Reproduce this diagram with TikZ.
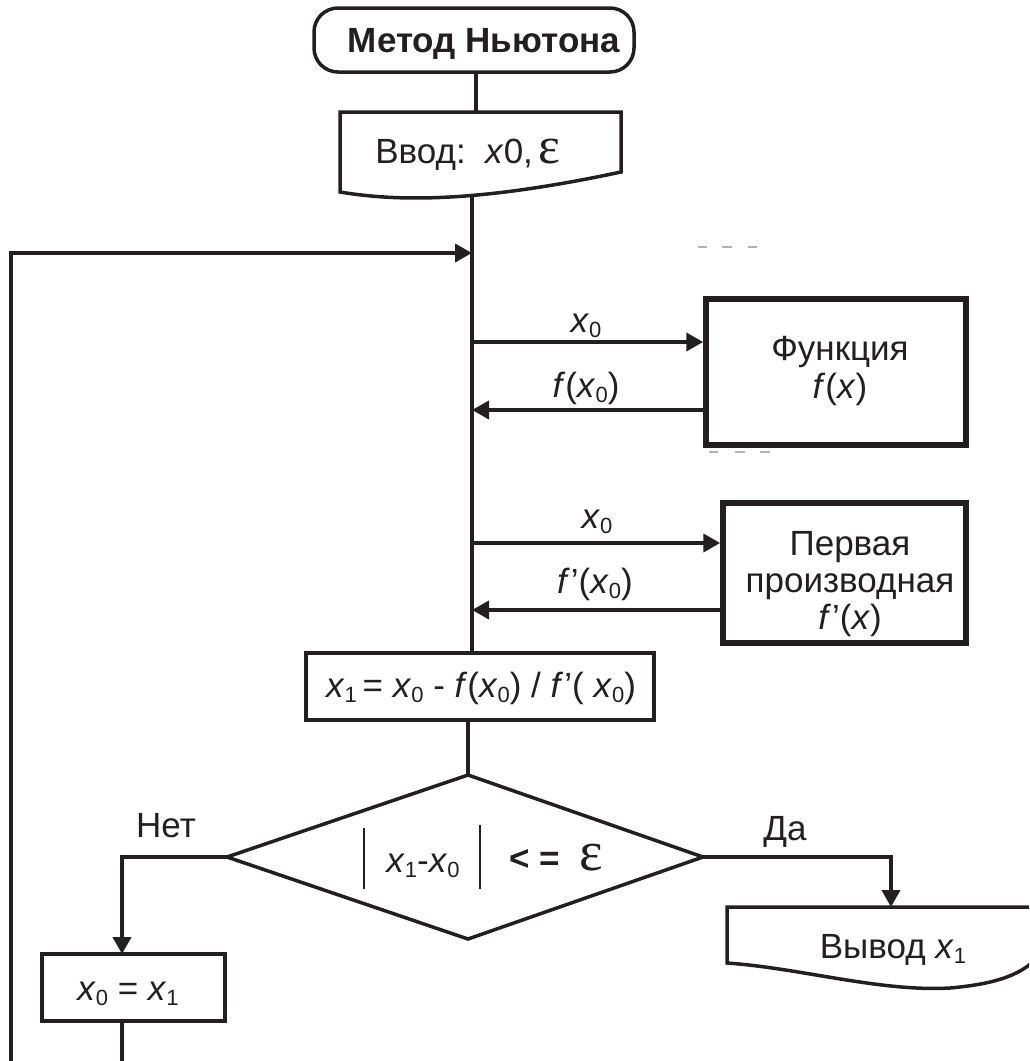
\documentclass[tikz,border=0pt]{standalone}
\usepackage{fontspec}
\setmainfont{Liberation Sans}
\newfontfamily\grkfont{Liberation Serif}
\usetikzlibrary{arrows.meta}
\definecolor{ink}{HTML}{231F20}
% italic variable, lowered index and the epsilon glyph
\newcommand\vx{\textit{x}}
\newcommand\vf{\textit{f}}
\newcommand\sbs[1]{\raisebox{-5pt}{\fontsize{22}{22}\selectfont #1}}
\newcommand\epsg[1]{{\grkfont\fontsize{#1}{#1}\selectfont ε}}

\begin{document}
\begin{tikzpicture}[x=1pt,y=-1pt,
  every node/.style={font=\fontsize{35}{37}\selectfont, text=ink, inner sep=0pt},
  conn/.style={draw=ink, line width=4pt},
  arr/.style={conn, -{Triangle[length=17pt,width=18pt]}},
  box/.style={draw=ink, line width=3.5pt, rectangle, inner sep=0pt},
  thickbox/.style={box, line width=5.5pt},
  gap/.style={draw=black!30, line width=1.5pt}
]
\useasboundingbox (0,0) rectangle (1029,1061);
\clip (0,0) rectangle (1029,1061);

% ---- start terminal
\node[box, rounded corners=24pt, minimum width=320pt, minimum height=64pt] (start) at (474,40) {};
\node[anchor=base, font=\bfseries\fontsize{35}{38}\selectfont] (startTxt) at (484,52) {Метод Ньютона};

% ---- input (document shape)
\draw[box] (340,112) -- (621,112) -- (621,172)
  .. controls (480,202) and (400,202) .. (340,192) -- cycle;
\node[anchor=base] (inp) at (468,163) {Ввод:\ \ \vx0,\,\epsg{52}};
\coordinate (inpTop) at (476,112);
\coordinate (inpBot) at (472,197);
\draw[conn, line width=3.5pt] (start.south -| inpTop) -- (inpTop);

% ---- computation box
\node[box, minimum width=348pt, minimum height=67pt] (calc) at (480,686.5) {};
\node[anchor=base] (calcTxt) at (481,697)
  {\vx\sbs{1}\,= \vx\sbs{0} - \vf(\vx\sbs{0}) / \vf\kern1pt'( \vx\sbs{0})};

% ---- main vertical line and loop entry
\coordinate (loopIn) at (472,253);
\draw[conn] (inpBot) -- (inpBot |- calc.north);

% ---- function block
\node[thickbox, minimum width=260pt, minimum height=146pt] (func) at (836,372) {};
\node[align=center] (funcTxt) at (840,371) {Функция\\[1pt]\vf(\vx)};
\coordinate (m1) at (472,342);
\coordinate (m2) at (472,410);
\draw[arr] (m1) -- (m1 -| func.west);
\draw[arr] (m2 -| func.west) -- (m2);
\node[anchor=base] (lx1) at (586,332) {\vx\sbs{0}};
\node[anchor=base] (lf1) at (586,397) {\vf(\vx\sbs{0})};

% ---- derivative block
\node[thickbox, minimum width=243pt, minimum height=140pt] (deriv) at (844.5,573) {};
\node[align=center] (derivTxt) at (850,584) {Первая\\производная\\\vf\kern1pt'(\vx)};
\coordinate (m3) at (472,543);
\coordinate (m4) at (472,610);
\draw[arr] (m3) -- (m3 -| deriv.west);
\draw[arr] (m4 -| deriv.west) -- (m4);
\node[anchor=base] (lx2) at (597,528) {\vx\sbs{0}};
\node[anchor=base] (lf2) at (595,593) {\vf\kern1pt'(\vx\sbs{0})};

% ---- faint marks near the function block
\draw[gap] (698,247) -- (707,247) (722,247) -- (732,247) (748,247) -- (757,247);
\draw[gap] (709,452) -- (718,452) (735,452) -- (745,452) (760,452) -- (770,452);

% ---- decision
\coordinate (dT) at (468,775);
\coordinate (dL) at (227,857);
\coordinate (dR) at (703,857);
\coordinate (dB) at (468,939);
\draw[box] (dT) -- (dR) -- (dB) -- (dL) -- cycle;
\draw[conn, line width=3.5pt] (calc.south -| dT) -- (dT);
\draw[ink, line width=2pt] (364,828) -- (364,889) (480,825) -- (480,889);
\node[anchor=base] (cond) at (423,872) {\vx\sbs{1}-\vx\sbs{0}};
\node[anchor=base] (rel) at (556,870) {\textbf{<\ =}\ \ \epsg{56}};

% ---- "no" branch
\node[anchor=base] (no) at (166,837) {Нет};
\node[box, minimum width=183pt, minimum height=67pt] (upd) at (133.5,987.5) {};
\node[anchor=base] (updTxt) at (128,1000) {\vx\sbs{0} = \vx\sbs{1}};
\coordinate (updIn) at (122,954);
\coordinate (updOut) at (122,1021);
\coordinate (loopEnd) at (122,1075);
\draw[arr] (dL) -| (updIn);
\draw[conn] (updOut) -- (loopEnd);
\coordinate (loopStart) at (11,1075);
\draw[arr] (loopStart) |- (loopIn);

% ---- "yes" branch and output
\node[anchor=base] (yes) at (785,840) {Да};
\coordinate (outTop) at (891,907);
\draw[arr] (dR) -| (outTop);
\draw[box] (1050,907) -- (727,907) -- (727,963)
  .. controls (800,968) and (880,992) .. (950,988)
  .. controls (995,984) and (1025,975) .. (1042,952);
\node[anchor=base] (outTxt) at (893,958) {Вывод \vx\sbs{1}};
\end{tikzpicture}
\end{document}
